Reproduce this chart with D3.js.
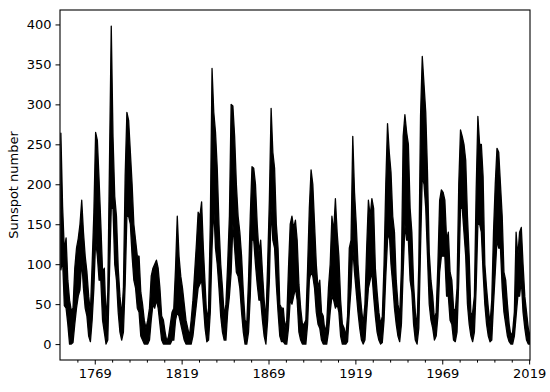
<!DOCTYPE html>
<html>
<head>
<meta charset="utf-8">
<script src="https://cdn.jsdelivr.net/npm/d3@7"></script>
<style>
  body { margin: 0; background: #fff; }
  text { font-family: "DejaVu Sans", sans-serif; }
</style>
</head>
<body>
<div id="chart"></div>
<script>
// monthly sunspot number, summarised per year as the monthly low / high seen in the plot
const firstYear = 1749;
const monthlyHigh = [
  264,172,117,133,80,55,42,45,95,120,
  132,150,180,140,110,90,60,40,100,165,
  265,255,205,150,90,95,30,65,230,398,
  260,185,160,95,60,35,70,210,290,280,
  240,200,150,130,110,110,65,50,30,20,
  30,45,85,95,100,105,95,70,35,30,
  15,3,10,25,40,45,95,160,110,85,
  70,50,30,20,10,30,55,90,125,165,
  160,178,120,75,30,45,150,345,290,265,
  220,150,100,70,35,50,100,160,300,298,
  260,200,160,140,110,65,30,25,80,160,
  222,220,200,150,115,130,90,55,30,100,
  180,295,240,220,150,120,50,45,45,20,
  30,95,150,160,145,155,130,75,45,25,
  25,30,95,170,218,200,150,100,70,80,
  40,35,15,25,70,100,160,140,182,140,
  110,55,25,20,10,35,120,130,260,190,
  150,100,70,45,25,50,120,180,160,182,
  170,95,65,40,25,35,100,200,276,240,
  215,160,140,80,50,35,95,260,287,265,
  250,170,140,75,40,20,100,285,360,325,
  290,215,115,80,60,30,40,100,180,193,
  190,180,130,140,90,80,45,40,70,200,
  268,260,250,230,160,110,35,40,60,190,
  285,250,250,210,100,70,45,25,55,140,
  200,245,240,200,160,90,80,50,25,10,
  15,40,140,110,140,146,100,60,40,20,
  10
];
const monthlyLow = [
  93,105,48,45,25,0,0,2,25,45,
  60,68,105,70,45,35,10,3,30,70,
  130,110,80,80,30,15,0,5,90,170,
  170,100,80,40,15,5,15,75,160,160,
  150,110,80,70,45,40,10,5,0,0,
  0,5,30,50,45,55,45,25,5,0,
  0,0,0,0,5,5,30,40,35,25,
  15,5,0,0,0,0,10,30,50,70,
  75,80,50,20,3,5,40,120,170,120,
  100,70,35,15,5,5,40,60,90,150,
  120,90,85,70,40,15,0,0,15,60,
  130,130,100,75,55,55,30,10,0,30,
  80,170,130,120,75,40,10,3,3,0,
  0,20,55,50,60,70,55,15,5,0,
  0,0,25,80,90,85,70,40,25,20,
  5,0,0,0,15,40,60,55,45,50,
  40,10,0,0,0,3,40,70,120,90,
  65,40,20,5,0,5,40,70,80,90,
  60,35,15,5,0,2,30,85,130,140,
  100,75,45,25,10,3,25,90,150,130,
  130,80,65,25,5,0,20,120,210,200,
  170,110,50,30,20,5,10,35,90,110,
  110,110,60,60,30,25,5,3,15,80,
  170,170,140,110,50,25,10,3,15,70,
  150,150,140,90,50,25,10,3,5,50,
  90,130,120,120,70,40,25,10,3,0,
  0,10,35,60,60,80,40,20,5,0,
  0
];
const xTicks = [1769, 1819, 1869, 1919, 1969, 2019];
const yTicks = [0, 50, 100, 150, 200, 250, 300, 350, 400];

const years = d3.range(firstYear, firstYear + monthlyHigh.length);
const rows = years.map((yr, i) => ({ year: yr, hi: monthlyHigh[i], lo: monthlyLow[i] }));

const width = 550, height = 392;
const margin = { top: 10, right: 20, bottom: 32, left: 60 };

const svg = d3.select("#chart").append("svg")
  .attr("width", width)
  .attr("height", height);

const x = d3.scaleLinear()
  .domain([1749, 2019.5])
  .range([margin.left, width - margin.right]);

// matplotlib style 5% padding around 0..398
const y = d3.scaleLinear()
  .domain([-19.9, 418.1])
  .range([height - margin.bottom, margin.top]);

svg.append("clipPath").attr("id", "plotclip")
  .append("rect")
  .attr("x", margin.left)
  .attr("y", margin.top)
  .attr("width", width - margin.left - margin.right)
  .attr("height", height - margin.top - margin.bottom);

const band = d3.area()
  .x(d => x(d.year + 0.5))
  .y0(d => y(d.lo))
  .y1(d => y(d.hi));

svg.append("path")
  .datum(rows)
  .attr("clip-path", "url(#plotclip)")
  .attr("d", band)
  .attr("fill", "#000")
  .attr("stroke", "#000")
  .attr("stroke-width", 1.3)
  .attr("stroke-linejoin", "round");

// axes
const xAxis = svg.append("g")
  .attr("transform", "translate(0," + (height - margin.bottom) + ")")
  .call(d3.axisBottom(x).tickValues(xTicks).tickFormat(d3.format("d")).tickSize(4.5).tickPadding(4));

svg.append("g")
  .attr("transform", "translate(0," + (height - margin.bottom) + ")")
  .call(d3.axisBottom(x).tickValues(d3.range(1759, 2020, 10).filter(v => !xTicks.includes(v))).tickFormat("").tickSize(2.6))
  .call(g => g.select(".domain").remove());

const yAxis = svg.append("g")
  .attr("transform", "translate(" + margin.left + ",0)")
  .call(d3.axisLeft(y).tickValues(yTicks).tickSize(4.5).tickPadding(4));

svg.selectAll(".tick line").attr("stroke", "#000").attr("stroke-width", 1);
svg.selectAll(".tick text").attr("font-size", 13).attr("fill", "#000")
  .attr("font-family", "DejaVu Sans, sans-serif");
svg.selectAll(".domain").remove();

// frame
svg.append("rect")
  .attr("x", margin.left)
  .attr("y", margin.top)
  .attr("width", width - margin.left - margin.right)
  .attr("height", height - margin.top - margin.bottom)
  .attr("fill", "none")
  .attr("stroke", "#000")
  .attr("stroke-width", 1.1);

svg.append("text")
  .attr("transform", "translate(18," + ((margin.top + height - margin.bottom) / 2) + ") rotate(-90)")
  .attr("text-anchor", "middle")
  .attr("font-size", 13)
  .text("Sunspot number");
</script>
</body>
</html>
